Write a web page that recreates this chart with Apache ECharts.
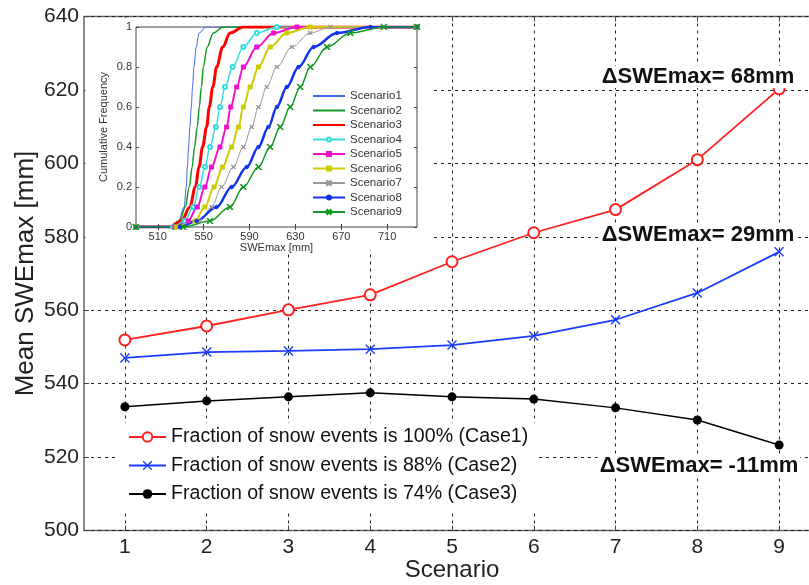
<!DOCTYPE html>
<html><head><meta charset="utf-8">
<script src="https://cdn.jsdelivr.net/npm/echarts@6/dist/echarts.min.js"></script>
<style>html,body{margin:0;padding:0;background:#fff}#c{width:809px;height:585px}</style>
</head><body><div id="c"></div>
<script>
// ---- main chart data ----
const scenarios = [1, 2, 3, 4, 5, 6, 7, 8, 9];
const case1 = [551.9, 555.7, 560.1, 564.2, 573.2, 581.1, 587.4, 601.0, 620.3];
const case2 = [547.0, 548.6, 548.9, 549.4, 550.5, 553.0, 557.4, 564.7, 575.9];
const case3 = [533.7, 535.3, 536.4, 537.5, 536.4, 535.8, 533.4, 530.1, 523.3];
const caseNames = ['Fraction of snow events is 100% (Case1)', 'Fraction of snow events is 88% (Case2)', 'Fraction of snow events is 74% (Case3)'];
const deltaLabels = ['\u0394SWEmax= 68mm', '\u0394SWEmax= 29mm', '\u0394SWEmax= -11mm'];

// ---- inset (cumulative frequency) data ----
const cdfLevels = [0, 0, 0.03, 0.1, 0.2, 0.3, 0.4, 0.5, 0.6, 0.7, 0.8, 0.9, 0.97, 1, 1];
const sc1 = [491, 521.0, 528.0, 533.0, 534.8, 535.8, 536.8, 538.0, 539.2, 540.3, 541.5, 543.5, 546.0, 552.0, 736];
const sc2 = [491, 519.0, 529.0, 534.0, 537.4, 540.0, 542.0, 544.4, 546.2, 548.0, 549.7, 553.0, 558.4, 567.0, 736];
const sc3 = [491, 520.5, 530.7, 538.0, 542.7, 546.0, 549.0, 552.6, 554.9, 558.0, 561.3, 566.6, 573.0, 584.6, 736];
const sc4 = [491, 523.4, 533.6, 540.9, 546.2, 551.1, 555.5, 560.7, 564.2, 568.6, 575.3, 584.6, 596.3, 613.8, 736];
const sc5 = [491, 524.9, 536.5, 544.4, 551.1, 556.9, 564.2, 570.0, 573.6, 578.8, 584.6, 596.3, 610.9, 631.3, 736];
const sc6 = [491, 526.3, 542.4, 551.1, 559.0, 566.6, 574.4, 580.3, 584.6, 590.5, 597.8, 608.0, 622.5, 643.0, 736];
const sc7 = [491, 529.2, 546.7, 556.9, 565.7, 575.9, 584.6, 591.9, 597.8, 605.0, 613.8, 626.9, 642.9, 660.4, 736];
const sc8 = [491, 529.2, 543.8, 561.3, 574.4, 587.6, 597.8, 606.5, 613.8, 622.5, 632.7, 645.9, 666.3, 695.4, 736];
const sc9 = [491, 532.2, 555.5, 573.0, 584.6, 597.8, 608.0, 616.7, 625.5, 634.2, 643.0, 657.5, 677.9, 707.1, 736];
const scenarioNames = ['Scenario1', 'Scenario2', 'Scenario3', 'Scenario4', 'Scenario5', 'Scenario6', 'Scenario7', 'Scenario8', 'Scenario9'];
const insetXTicks = [510, 550, 590, 630, 670, 710];

const FONT = 'Liberation Sans, Arial, sans-serif';
const XSYM = 'path://M0,1 L1,0 L5,4 L9,0 L10,1 L6,5 L10,9 L9,10 L5,6 L1,10 L0,9 L4,5 Z';

const chart = echarts.init(document.getElementById('c'), null, {renderer: 'canvas'});

const pair = (xs, ys) => xs.map((x, i) => [x, ys[i]]);

const caseStyles = [
  {color: '#ff2020', symbol: 'emptyCircle', size: 11, width: 1.8},
  {color: '#1a3cff', symbol: XSYM, size: 10, width: 1.8},
  {color: '#000000', symbol: 'circle', size: 9, width: 1.5}
];
const caseData = [case1, case2, case3];

const insetStyles = [
  {color: '#4466ee', width: 1, symbol: 'none', size: 0},
  {color: '#119922', width: 1.5, symbol: 'none', size: 0},
  {color: '#ff0000', width: 3, symbol: 'none', size: 0},
  {color: '#33dddd', width: 1.5, symbol: 'emptyCircle', size: 4},
  {color: '#ee11cc', width: 2, symbol: 'rect', size: 4},
  {color: '#cccc00', width: 2, symbol: 'rect', size: 4},
  {color: '#999999', width: 1, symbol: XSYM, size: 4},
  {color: '#1133ee', width: 2.5, symbol: 'circle', size: 3.5},
  {color: '#119922', width: 1.5, symbol: XSYM, size: 6}
];
const insetData = [sc1, sc2, sc3, sc4, sc5, sc6, sc7, sc8, sc9];

const series = [];
caseData.forEach((d, i) => {
  const s = caseStyles[i];
  series.push({
    name: caseNames[i], type: 'line', xAxisIndex: 0, yAxisIndex: 0,
    data: pair(scenarios, d), symbol: s.symbol, symbolSize: s.size,
    lineStyle: {color: s.color, width: s.width},
    itemStyle: {color: s.color, borderColor: s.color, borderWidth: i === 0 ? 1.5 : 0},
    z: 3
  });
});
insetData.forEach((d, i) => {
  const s = insetStyles[i];
  series.push({
    name: scenarioNames[i], type: 'line', xAxisIndex: 2, yAxisIndex: 1,
    data: pair(d, cdfLevels), smooth: 0.35, smoothMonotone: 'x',
    symbol: s.symbol, symbolSize: s.size, showSymbol: s.symbol !== 'none',
    lineStyle: {color: s.color, width: s.width},
    itemStyle: {color: s.color, borderColor: s.color, borderWidth: 1},
    z: 6
  });
});

const insetLegendData = scenarioNames.map((n, i) =>
  insetStyles[i].symbol === 'none' ? {name: n, itemStyle: {opacity: 0}} : {name: n});

const dash = {color: '#222', type: [3, 4], width: 1};

const option = {
  backgroundColor: '#fff',
  animation: false,
  textStyle: {fontFamily: FONT},
  grid: [
    {left: 84, top: 16.5, right: -11, bottom: 54.5, show: true, borderColor: '#666', borderWidth: 1.5,
     backgroundColor: 'transparent', z: 0, containLabel: false, outerBoundsMode: 'none'},
    {left: 136, top: 27, width: 281, height: 200, show: true, borderColor: '#444', borderWidth: 1,
     backgroundColor: '#fff', z: 2, containLabel: false, outerBoundsMode: 'none'}
  ],
  xAxis: [
    {type: 'value', gridIndex: 0, min: 0.5, max: 9.5,
     axisLine: {show: false},
     axisTick: {show: true, inside: true, length: 5, customValues: scenarios, lineStyle: {color: '#444'}},
     axisLabel: {customValues: scenarios, fontSize: 21, color: '#222', margin: 6, fontFamily: FONT},
     splitLine: {show: true, lineStyle: dash},
     name: 'Scenario', nameLocation: 'middle', nameGap: 28, nameMoveOverlap: false,
     nameTextStyle: {fontSize: 24, color: '#222', fontFamily: FONT}},
    {type: 'value', gridIndex: 0, min: 0.5, max: 9.5, position: 'top',
     axisLine: {show: false}, axisLabel: {show: false}, splitLine: {show: false},
     axisTick: {show: true, inside: true, length: 5, customValues: scenarios, lineStyle: {color: '#444'}}},
    {type: 'value', gridIndex: 1, min: 491, max: 736, z: 5,
     axisLine: {show: false},
     axisTick: {show: true, inside: true, length: 3, customValues: insetXTicks, lineStyle: {color: '#444'}},
     axisLabel: {customValues: insetXTicks, fontSize: 11, color: '#333', margin: 4, fontFamily: FONT},
     splitLine: {show: false},
     name: 'SWEmax [mm]', nameLocation: 'middle', nameGap: 13, nameTextStyle: {fontSize: 11, color: '#333', fontFamily: FONT}},
    {type: 'value', gridIndex: 1, min: 491, max: 736, position: 'top', z: 5,
     axisLine: {show: false}, axisLabel: {show: false}, splitLine: {show: false},
     axisTick: {show: true, inside: true, length: 3, customValues: insetXTicks, lineStyle: {color: '#444'}}}
  ],
  yAxis: [
    {type: 'value', gridIndex: 0, min: 500, max: 640, interval: 20,
     axisLine: {show: false},
     axisTick: {show: true, inside: true, length: 5, lineStyle: {color: '#444'}},
     axisLabel: {fontSize: 21, color: '#222', margin: 5, fontFamily: FONT},
     splitLine: {show: true, lineStyle: dash},
     name: 'Mean SWEmax [mm]', nameLocation: 'middle', nameGap: 45, nameMoveOverlap: false,
     nameTextStyle: {fontSize: 26, color: '#222', fontFamily: FONT}},
    {type: 'value', gridIndex: 1, min: 0, max: 1, interval: 0.2, z: 5,
     axisLine: {show: false},
     axisTick: {show: true, inside: true, length: 3, lineStyle: {color: '#444'}},
     axisLabel: {fontSize: 11, color: '#333', margin: 4, fontFamily: FONT},
     splitLine: {show: false},
     name: 'Cumulative Frequency', nameLocation: 'middle', nameGap: 27, nameTextStyle: {fontSize: 11, color: '#333', fontFamily: FONT}},
    {type: 'value', gridIndex: 1, min: 0, max: 1, interval: 0.2, position: 'right', z: 5,
     axisLine: {show: false}, axisLabel: {show: false}, splitLine: {show: false},
     axisTick: {show: true, inside: true, length: 3, lineStyle: {color: '#444'}}}
  ],
  legend: [
    {data: caseNames, orient: 'vertical', left: 115, top: 423, padding: [4, 11, 8, 13],
     backgroundColor: '#fff', itemWidth: 37, itemHeight: 12, itemGap: 8.5,
     textStyle: {fontSize: 19.6, lineHeight: 20, color: '#111', fontFamily: FONT}, z: 6},
    {data: insetLegendData, orient: 'vertical', left: 312, top: 90, padding: 0,
     itemWidth: 32, itemHeight: 5, itemGap: 2.5,
     textStyle: {fontSize: 11.5, lineHeight: 12, color: '#333', fontFamily: FONT}, z: 8}
  ],
  graphic: [
    {type: 'rect', z: 1, shape: {x: 85.5, y: 18, width: 346, height: 232}, style: {fill: '#fff'}},
    {type: 'text', z: 10, x: 698, y: 77, style: {text: deltaLabels[0], font: 'bold 22px ' + FONT, fill: '#111', align: 'center', verticalAlign: 'middle', backgroundColor: '#fff', padding: [0, 2]}},
    {type: 'text', z: 10, x: 698, y: 235, style: {text: deltaLabels[1], font: 'bold 22px ' + FONT, fill: '#111', align: 'center', verticalAlign: 'middle', backgroundColor: '#fff', padding: [0, 2]}},
    {type: 'text', z: 10, x: 699, y: 466, style: {text: deltaLabels[2], font: 'bold 22px ' + FONT, fill: '#111', align: 'center', verticalAlign: 'middle', backgroundColor: '#fff', padding: [0, 2]}}
  ],
  series: series
};
chart.setOption(option);
</script></body></html>
